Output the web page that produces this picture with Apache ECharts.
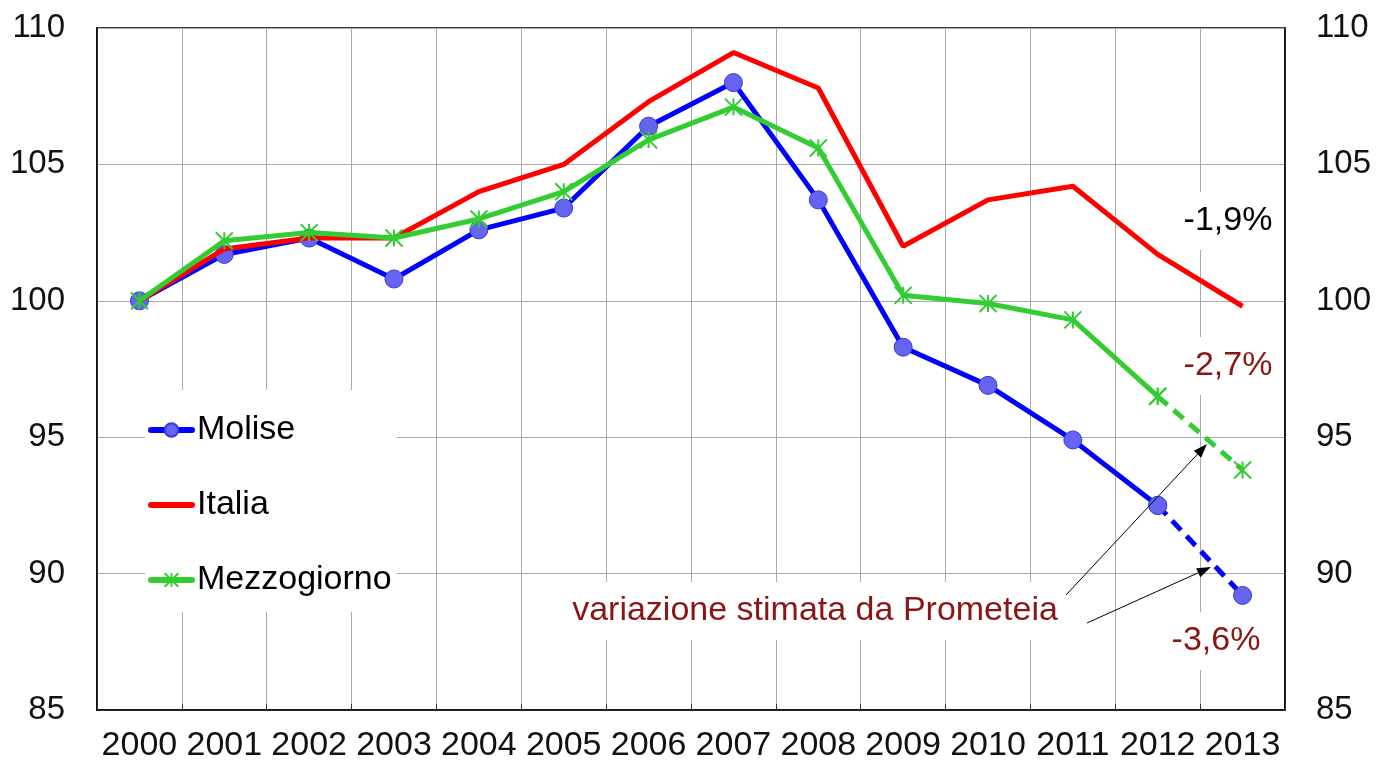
<!DOCTYPE html>
<html>
<head>
<meta charset="utf-8">
<script src="https://cdn.jsdelivr.net/npm/echarts@6/dist/echarts.min.js"></script>
<style>
html,body{margin:0;padding:0;background:#fff;}
#chart{width:1383px;height:771px;}
</style>
</head>
<body>
<div id="chart"></div>
<script>
const years = ['2000','2001','2002','2003','2004','2005','2006','2007','2008','2009','2010','2011','2012','2013'];
const molise = [100, 101.7, 102.3, 100.8, 102.6, 103.4, 106.4, 108.0, 103.7, 98.3, 96.9, 94.9, 92.5, 89.2];
const italia = [100, 101.9, 102.3, 102.3, 104.0, 105.0, 107.3, 109.1, 107.8, 102.0, 103.7, 104.2, 101.7, 99.8];
const mezzogiorno = [100, 102.2, 102.5, 102.3, 103.0, 104.0, 105.9, 107.1, 105.6, 100.2, 99.9, 99.3, 96.5, 93.8];
const lastObserved = 12; // 2012: solid up to here, estimate (dashed) after
const yTicks = {min: 85, max: 110, interval: 5};
const notes = {italia: '-1,9%', mezzogiorno: '-2,7%', molise: '-3,6%', source: 'variazione stimata da Prometeia'};

const FONT = '"Liberation Sans", Arial, sans-serif';
const BLUE = '#0000ff', RED = '#ff0000', GREEN = '#33cc33', DARKRED = '#8a1515';
const STAR = 'path://M10,0L10,20M0,0L20,20M0,20L20,0';

const solid = arr => arr.map((v, i) => i <= lastObserved ? v : '-');
const dashed = arr => arr.map((v, i) => i >= lastObserved ? v : '-');

const moliseStyle = {
  symbol: 'circle', symbolSize: 18,
  itemStyle: {color: '#6464f0', borderColor: '#3a3ad8', borderWidth: 1}
};
const mezzStyle = {
  symbol: STAR, symbolSize: 17,
  itemStyle: {color: GREEN, borderColor: GREEN, borderWidth: 2}
};

function arrow(x1, y1, x2, y2) {
  const a = Math.atan2(y2 - y1, x2 - x1);
  const L = 14, W = 5;
  const bx = x2 - L * Math.cos(a), by = y2 - L * Math.sin(a);
  return [
    {type: 'line', z: 10, shape: {x1: x1, y1: y1, x2: bx, y2: by}, style: {stroke: '#000', lineWidth: 1}},
    {type: 'polygon', z: 10, shape: {points: [[x2, y2], [bx - W * Math.sin(a), by + W * Math.cos(a)], [bx + W * Math.sin(a), by - W * Math.cos(a)]]}, style: {fill: '#000'}}
  ];
}
function label(txt, x, y, color) {
  return {type: 'text', z: 9, x: x, y: y, style: {
    text: txt, fill: color, fontSize: 34, fontFamily: FONT, align: 'center', verticalAlign: 'middle',
    backgroundColor: '#fff', padding: [12, 6]
  }};
}

const chart = echarts.init(document.getElementById('chart'), null, {renderer: 'canvas'});
chart.setOption({
  animation: false,
  backgroundColor: '#fff',
  textStyle: {fontFamily: FONT},
  grid: {left: 97, right: 98, top: 28, bottom: 61, show: true, borderColor: '#000', borderWidth: 1.5, backgroundColor: 'transparent'},
  legend: {
    data: [
      {name: 'Molise'},
      {name: 'Italia', itemStyle: {color: 'rgba(0,0,0,0)', borderWidth: 0, opacity: 0}},
      {name: 'Mezzogiorno'}
    ],
    orient: 'vertical', left: 145, top: 390,
    backgroundColor: '#fff', padding: [22, 5, 14, 3],
    itemWidth: 41, itemHeight: 17, itemGap: 39,
    lineStyle: {width: 6, cap: 'round'},
    textStyle: {fontSize: 34, color: '#000', fontFamily: FONT, lineHeight: 36},
    selectedMode: false
  },
  xAxis: {
    type: 'category', data: years, boundaryGap: true,
    axisLine: {lineStyle: {color: '#000', width: 1.5}},
    axisTick: {show: true, inside: true, length: 6, lineStyle: {color: '#333'}},
    axisLabel: {fontSize: 34, color: '#111', margin: 19, fontFamily: FONT, interval: 0},
    splitLine: {show: true, interval: 0, lineStyle: {color: '#aaaaaa', width: 1}}
  },
  yAxis: [
    {type: 'value', min: yTicks.min, max: yTicks.max, interval: yTicks.interval, position: 'left',
     axisLine: {show: true, lineStyle: {color: '#000', width: 1.5}}, axisTick: {show: false},
     axisLabel: {fontSize: 33, color: '#111', margin: 32, fontFamily: FONT},
     splitLine: {show: true, lineStyle: {color: '#aaaaaa', width: 1}}},
    {type: 'value', min: yTicks.min, max: yTicks.max, interval: yTicks.interval, position: 'right',
     axisLine: {show: true, lineStyle: {color: '#000', width: 1.5}}, axisTick: {show: false},
     axisLabel: {fontSize: 33, color: '#111', margin: 31, fontFamily: FONT},
     splitLine: {show: false}}
  ],
  series: [
    Object.assign({name: 'Molise', type: 'line', data: solid(molise), showSymbol: true, showAllSymbol: true,
      lineStyle: {color: BLUE, width: 5}, z: 2}, moliseStyle),
    Object.assign({name: 'Molise stima', type: 'line', data: dashed(molise), showSymbol: true, showAllSymbol: true,
      lineStyle: {color: BLUE, width: 5, type: [13, 8]}, z: 2}, moliseStyle),
    {name: 'Italia', type: 'line', data: italia, symbol: 'none',
      lineStyle: {color: RED, width: 5}, itemStyle: {color: RED}, z: 3},
    Object.assign({name: 'Mezzogiorno', type: 'line', data: solid(mezzogiorno), showSymbol: true, showAllSymbol: true,
      lineStyle: {color: GREEN, width: 5}, z: 4}, mezzStyle),
    Object.assign({name: 'Mezzogiorno stima', type: 'line', data: dashed(mezzogiorno), showSymbol: true, showAllSymbol: true,
      lineStyle: {color: GREEN, width: 5, type: [13, 8]}, z: 4}, mezzStyle)
  ],
  graphic: [
    label(notes.italia, 1228, 221, '#000'),
    label(notes.mezzogiorno, 1228, 366, DARKRED),
    label(notes.molise, 1216, 641, DARKRED),
    label(notes.source, 815, 611, DARKRED)
  ].concat(arrow(1066, 595, 1207, 444)).concat(arrow(1087, 623, 1211, 567))
});
</script>
</body>
</html>
